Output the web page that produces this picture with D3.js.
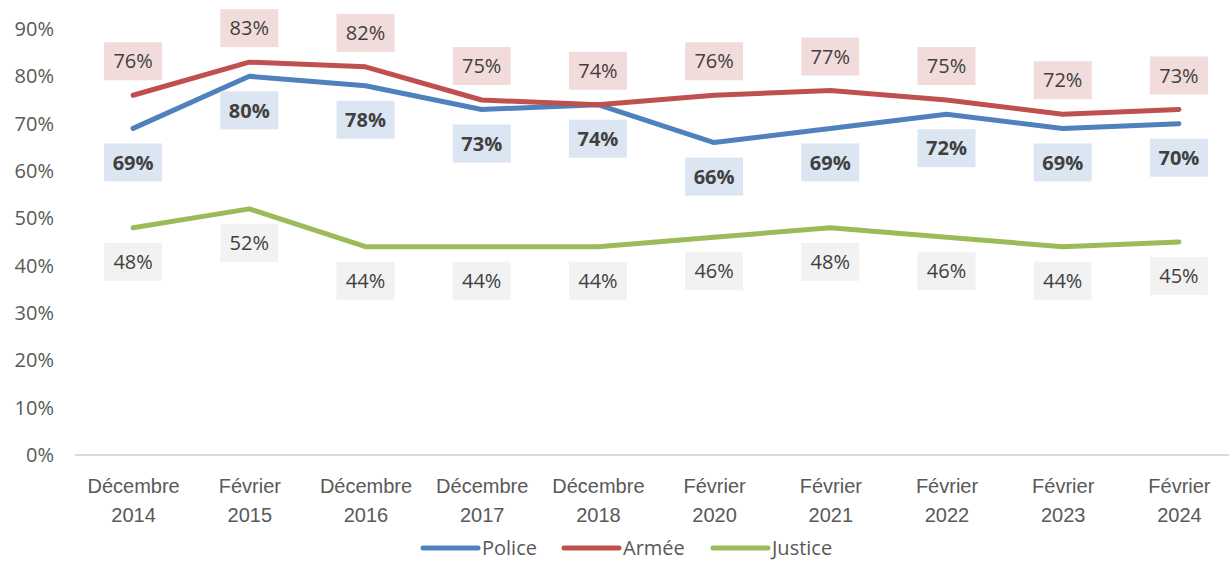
<!DOCTYPE html>
<html>
<head>
<meta charset="utf-8">
<script src="https://d3js.org/d3.v7.min.js"></script>
<style>
  body { margin: 0; background: #fff; }
  svg { font-family: "Open Sans", "Noto Sans", sans-serif; }
</style>
</head>
<body>
<svg class="target" width="1229" height="561"></svg>
<script>

// categories (two-line tick labels)
const periods = [
  ['Décembre', '2014'], ['Février', '2015'], ['Décembre', '2016'], ['Décembre', '2017'],
  ['Décembre', '2018'], ['Février', '2020'], ['Février', '2021'], ['Février', '2022'],
  ['Février', '2023'], ['Février', '2024']
]

const police  = [69, 80, 78, 73, 74, 66, 69, 72, 69, 70]
const armee   = [76, 83, 82, 75, 74, 76, 77, 75, 72, 73]
const justice = [48, 52, 44, 44, 44, 46, 48, 46, 44, 45]

const yTicks = [0, 10, 20, 30, 40, 50, 60, 70, 80, 90]

const series = [
  { name: 'Police',  values: police,  color: '#4F81BD', bg: '#DCE6F2', bold: true,  side: 1 },
  { name: 'Armée',   values: armee,   color: '#C0504D', bg: '#F2DCDB', bold: false, side: -1 },
  { name: 'Justice', values: justice, color: '#9BBB59', bg: '#F2F2F2', bold: false, side: 1 }
]

const width = 1229, height = 561
const margin = { top: 29, right: -8, bottom: 106, left: 75 }
const fs = '20px'

const keys = periods.map(p => p.join(' '))

const x = d3.scalePoint(keys, [margin.left, width - margin.right]).padding(0.5)
const y = d3.scaleLinear([0, 90], [height - margin.bottom, margin.top])

const svg = d3.select('.target')

// baseline
svg.append('line')
    .attr('x1', margin.left).attr('x2', width - margin.right)
    .attr('y1', y(0)).attr('y2', y(0))
    .attr('stroke', '#D9D9D9').attr('stroke-width', 2)

// y axis labels
const yAxis = d3.axisLeft(y).tickValues(yTicks).tickFormat(d => d + '%').tickSize(0).tickPadding(0)
svg.append('g')
    .attr('transform', `translate(54,0)`)
    .call(yAxis)
    .call(g => g.select('.domain').remove())
    .selectAll('text')
      .attr('fill', '#595959')
      .style('font-size', fs)
      .style('font-family', '"Open Sans", sans-serif')

// x axis labels
const xAxis = d3.axisBottom(x).tickSize(0).tickFormat('')
const gx = svg.append('g')
    .attr('transform', `translate(0,${y(0)})`)
    .call(xAxis)
    .call(g => g.select('.domain').remove())
gx.selectAll('.tick').each(function(d, i) {
  const t = d3.select(this).append('text')
      .attr('fill', '#595959')
      .attr('text-anchor', 'middle')
      .style('font-size', fs)
  t.append('tspan').attr('x', 0).attr('y', 38).text(periods[i][0])
  t.append('tspan').attr('x', 0).attr('y', 67).text(periods[i][1])
})

// lines
const line = d3.line()
    .x((d, i) => x(keys[i]))
    .y(d => y(d))

svg.append('g')
  .selectAll('path')
  .data(series)
  .join('path')
    .attr('d', s => line(s.values))
    .attr('fill', 'none')
    .attr('stroke', s => s.color)
    .attr('stroke-width', 5)
    .attr('stroke-linejoin', 'round')
    .attr('stroke-linecap', 'round')

// data labels
const bw = 58, bh = 38, off = 34
series.forEach(s => {
  const g = svg.append('g')
    .selectAll('g')
    .data(s.values)
    .join('g')
      .attr('transform', (d, i) => `translate(${x(keys[i])},${y(d) + s.side * off})`)
  g.append('rect')
      .attr('x', -bw / 2).attr('y', -bh / 2)
      .attr('width', bw).attr('height', bh)
      .attr('fill', s.bg)
  g.append('text')
      .attr('text-anchor', 'middle')
      .attr('dy', '0.36em')
      .attr('fill', '#404040')
      .style('font-size', fs)
      .style('font-weight', s.bold ? 'bold' : 'normal')
      .text(d => d + '%')
})

// legend
const legend = svg.append('g')
  .selectAll('g')
  .data(series)
  .join('g')
    .attr('transform', (d, i) => `translate(${[423, 564, 713][i]},548)`)
legend.append('line')
    .attr('x1', 0).attr('x2', 55)
    .attr('stroke', d => d.color)
    .attr('stroke-width', 5)
    .attr('stroke-linecap', 'round')
legend.append('text')
    .attr('x', 59)
    .attr('dy', '0.35em')
    .attr('fill', '#595959')
    .style('font-size', fs)
    .text(d => d.name)

</script>
</body>
</html>
